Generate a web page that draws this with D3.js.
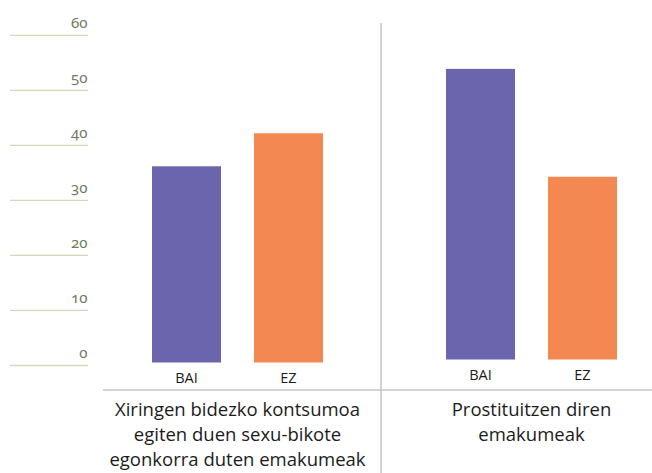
<!DOCTYPE html>
<html>
<head>
<meta charset="utf-8">
<script src="https://cdn.jsdelivr.net/npm/d3@7"></script>
<style>
  html, body { margin: 0; padding: 0; background: #ffffff; }
  svg { display: block; }
</style>
</head>
<body>
<svg id="chart" width="652" height="473"></svg>
<script>
// ---- data ----
const groups = ["Xiringen bidezko kontsumoa egiten duen sexu-bikote egonkorra duten emakumeak",
                "Prostituitzen diren emakumeak"];
const groupLabelLines = [
  ["Xiringen bidezko kontsumoa", "egiten duen sexu-bikote", "egonkorra duten emakumeak"],
  ["Prostituitzen diren", "emakumeak"]
];
const answers = ["BAI", "EZ"];
const baiValues = [36.2, 53.9];
const ezValues = [42.2, 34.3];
const yTicks = [0, 10, 20, 30, 40, 50, 60];

// ---- styles ----
const colors = { BAI: "#6b65ae", EZ: "#f48852" };
const groupBaseInset = [3, 6]; // small gap between bars and zero line, per panel

const svg = d3.select("#chart");
svg.append("rect").attr("width", 652).attr("height", 473).attr("fill", "#fff");

const y = d3.scaleLinear().domain([0, 60]).range([365.5, 35.3]);

// gridlines + tick labels
const gAxis = svg.append("g");
gAxis.selectAll("line").data(yTicks).join("line")
  .attr("x1", 10).attr("x2", 88)
  .attr("y1", d => y(d)).attr("y2", d => y(d))
  .attr("stroke", "#d4d7b7").attr("stroke-width", 1.3);
gAxis.selectAll("text").data(yTicks).join("text")
  .attr("x", 87.5).attr("y", d => y(d) - 7.5)
  .attr("text-anchor", "end")
  .attr("fill", "#6c7b60")
  .style("font-family", "'Noto Sans', sans-serif")
  .style("font-size", "15px")
  .style("font-variant-numeric", "oldstyle-nums")
  .text(d => d);

// divider lines
svg.append("line").attr("x1", 381).attr("x2", 381).attr("y1", 23).attr("y2", 473)
  .attr("stroke", "#c0c7bc").attr("stroke-width", 1.5);
svg.append("line").attr("x1", 103).attr("x2", 652).attr("y1", 390).attr("y2", 390)
  .attr("stroke", "#c0c7bc").attr("stroke-width", 1.5);

// bars
const x0 = d3.scaleBand().domain(groups).range([152, 152 + 294 * 2]).paddingInner(0).paddingOuter(0);
const x1 = d3.scaleBand().domain(answers).range([0, 171]).paddingInner(33 / 102).paddingOuter(0);

const rows = groups.map((g, i) => ({
  group: g, idx: i,
  vals: [{ k: "BAI", v: baiValues[i] }, { k: "EZ", v: ezValues[i] }]
}));

const gg = svg.selectAll("g.grp").data(rows).join("g")
  .attr("class", "grp")
  .attr("transform", d => `translate(${x0(d.group)},0)`);

gg.selectAll("rect").data(d => d.vals.map(v => ({ ...v, idx: d.idx }))).join("rect")
  .attr("x", d => x1(d.k))
  .attr("width", x1.bandwidth())
  .attr("y", d => y(d.v))
  .attr("height", d => y(0) - groupBaseInset[d.idx] - y(d.v))
  .attr("fill", d => colors[d.k]);

gg.selectAll("text.ans").data(d => d.vals.map(v => ({ ...v, idx: d.idx }))).join("text")
  .attr("class", "ans")
  .attr("x", d => x1(d.k) + x1.bandwidth() / 2)
  .attr("y", d => y(0) - groupBaseInset[d.idx] + 20.5)
  .attr("text-anchor", "middle")
  .attr("fill", "#1c1c1c")
  .style("font-family", "'Open Sans', sans-serif")
  .style("font-size", "14.5px")
  .text(d => d.k);

// group labels
gg.each(function (d) {
  const t = d3.select(this).append("text")
    .attr("text-anchor", "middle")
    .attr("fill", "#1c1c1c")
    .style("font-family", "'Open Sans', sans-serif")
    .style("font-size", "18.5px");
  groupLabelLines[d.idx].forEach((line, j) => {
    t.append("tspan")
      .attr("x", 171 / 2)
      .attr("y", 416 + j * 25)
      .text(line);
  });
});
</script>
</body>
</html>
